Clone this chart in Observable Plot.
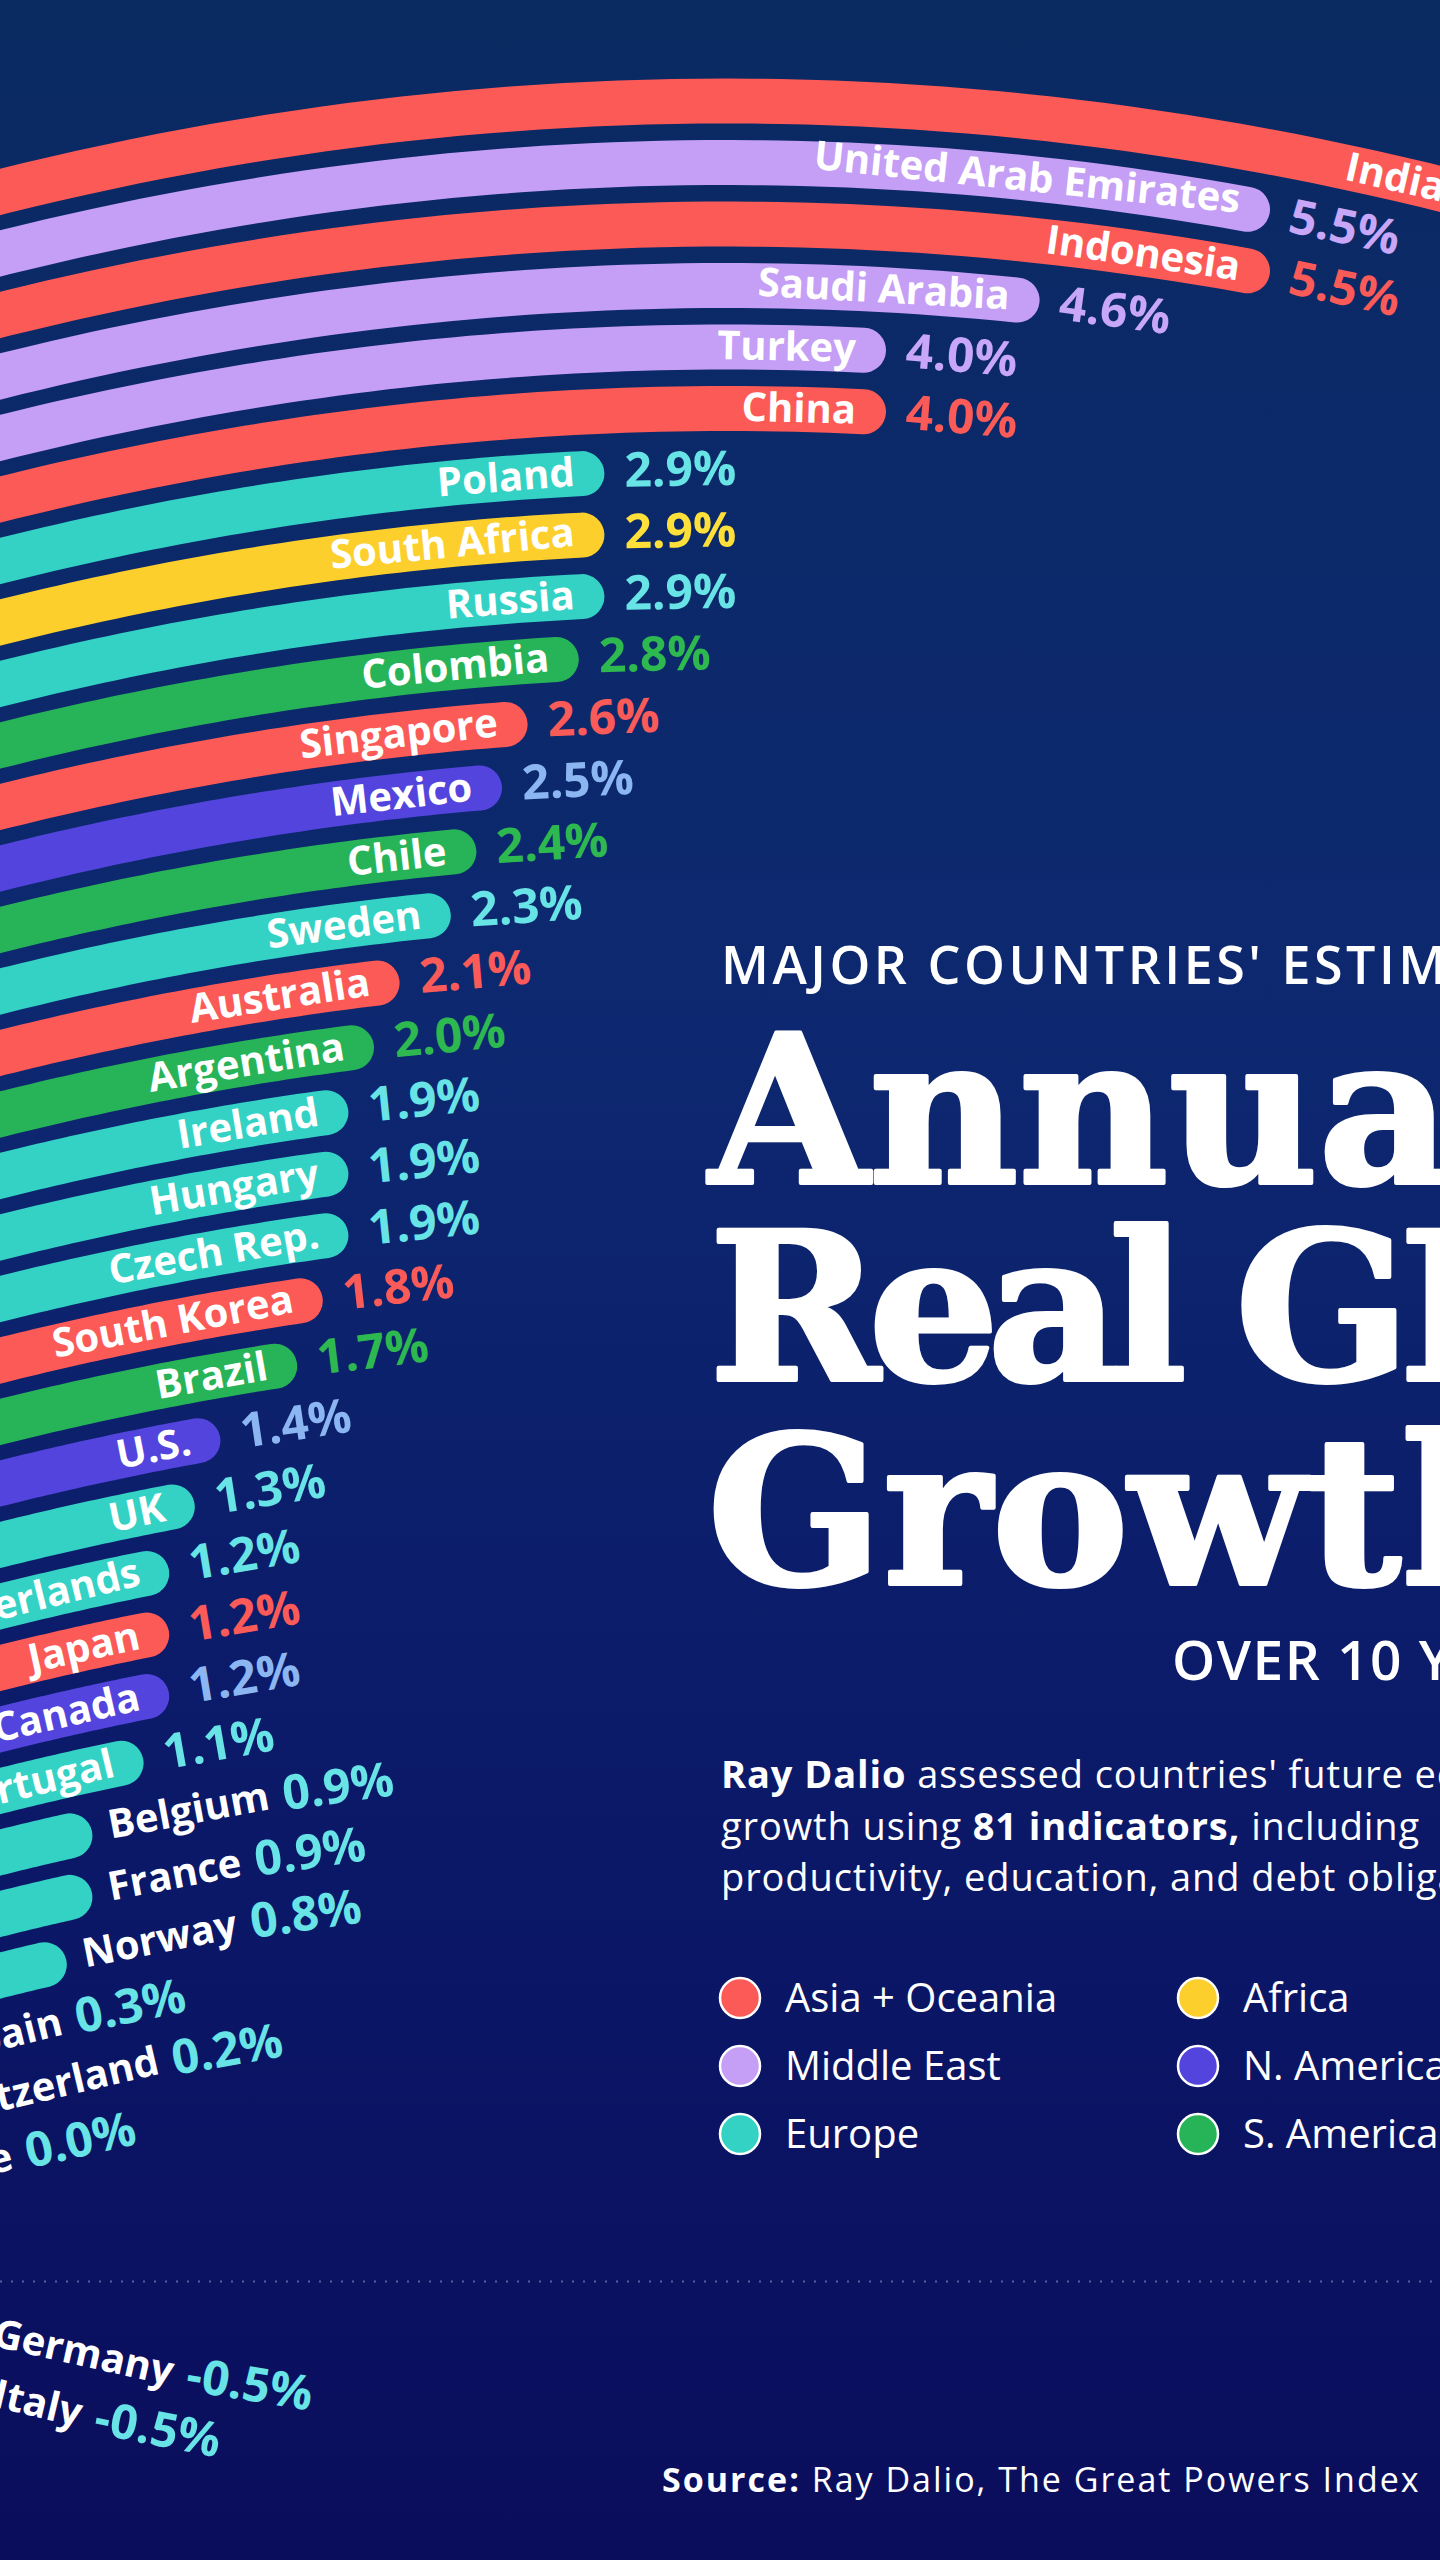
<!DOCTYPE html>
<html>
<head>
<meta charset="utf-8">
<script src="https://cdn.jsdelivr.net/npm/d3@7"></script>
<script src="https://cdn.jsdelivr.net/npm/@observablehq/plot@0.6"></script>
<style>
  html, body { margin: 0; padding: 0; }
  body {
    width: 1440px; height: 2560px; overflow: hidden; position: relative;
    background: linear-gradient(180deg, #0a2a62 0%, #0d2870 40%, #0b1868 72%, #0a0d5c 100%);
  }
  #chart { position: absolute; left: 0; top: 0; }
  #overlay { position: absolute; left: 0; top: 0; }
</style>
</head>
<body>
<div id="chart"></div>
<svg id="overlay" width="1440" height="2560" xmlns="http://www.w3.org/2000/svg"></svg>
<script>
// ---------------- DATA ----------------
const countries = ["India","United Arab Emirates","Indonesia","Saudi Arabia","Turkey","China","Poland","South Africa","Russia","Colombia","Singapore","Mexico","Chile","Sweden","Australia","Argentina","Ireland","Hungary","Czech Rep.","South Korea","Brazil","U.S.","UK","Netherlands","Japan","Canada","Portugal","Belgium","France","Norway","Spain","Switzerland","Greece","Germany","Italy"];
const growth = [6.3,5.5,5.5,4.6,4.0,4.0,2.9,2.9,2.9,2.8,2.6,2.5,2.4,2.3,2.1,2.0,1.9,1.9,1.9,1.8,1.7,1.4,1.3,1.2,1.2,1.2,1.1,0.9,0.9,0.8,0.3,0.2,0.0,-0.5,-0.5];
const regions = ["Asia + Oceania","Middle East","Asia + Oceania","Middle East","Middle East","Asia + Oceania","Europe","Africa","Europe","S. America","Asia + Oceania","N. America","S. America","Europe","Asia + Oceania","S. America","Europe","Europe","Europe","Asia + Oceania","S. America","N. America","Europe","Europe","Asia + Oceania","N. America","Europe","Europe","Europe","Europe","Europe","Europe","Europe","Europe","Europe"];
const regionNames = ["Asia + Oceania","Middle East","Europe","Africa","N. America","S. America"];

// ---------------- STYLE / LAYOUT ----------------
const barColors   = ["#fc5a57","#c59ef5","#33d2c4","#fdcf2c","#5244dc","#27b357"];
const valueColors = ["#fb5b58","#c8a6f8","#68e4e6","#ffe03a","#8cb6f2","#2eb850"];
const W = 1440, H = 2560;
const X0 = -161, K = 256;          // x scale: value 0 -> X0 px, +1% -> +K px
const Y0 = 100.5, STEP = 61.5;      // y scale: row 0 -> Y0, +1 row -> +STEP
const XC = 726, R = 2900;           // bending of the bars
const BAR_W = 45, CAP = BAR_W / 2;
const NEG_SHIFT = 4.78;             // rows offset of the mirrored (negative) section
const RULE_ROW = (2281 - Y0) / STEP;
const NAME_FONT = 40, VALUE_FONT = 48, FAM = "Open Sans";

const px = v => X0 + K * v;
const val = p => (p - X0) / K;
const bend = p => (p - XC) * (p - XC) / (2 * R);
const rowY = (rank, p, neg) => neg ? rank + NEG_SHIFT - bend(p) / STEP : rank + bend(p) / STEP;
const angle = (p, neg) => { const a = Math.atan((p - XC) / R) * 180 / Math.PI; return neg ? -a : a; };

const rows = countries.map((c, i) => ({country: c, value: growth[i], region: regions[i], rank: i, neg: growth[i] < 0}));

// bar paths (sampled along the bent band)
const SAMPLES = 60;
const barPts = rows.flatMap(r => d3.range(SAMPLES + 1).map(k => {
  const s = Math.abs(r.value) * k / SAMPLES;
  return {country: r.country, region: r.region, x: s, y: rowY(r.rank, px(s), r.neg)};
}));

// label placement
const ctx = document.createElement("canvas").getContext("2d");
const tw = (t, size) => { ctx.font = `700 ${size}px "${FAM}"`; return ctx.measureText(t).width; };
const fmt = v => v.toFixed(1) + "%";
function fromStart(p0, w) {
  const th = Math.atan((p0 + w / 2 - XC) / R);
  return {cx: p0 + (w / 2) * Math.cos(th), end: p0 + w * Math.cos(th)};
}
function fromEnd(pe, w) {
  const th = Math.atan((pe - w / 2 - XC) / R);
  return {cx: pe - (w / 2) * Math.cos(th)};
}
const nameLabels = [], valueLabels = [];
for (const r of rows) {
  const a = Math.abs(r.value);
  const capEdge = px(a) + CAP;
  const nameW = tw(r.country, NAME_FONT);
  const valText = fmt(r.value);
  const valW = tw(valText, VALUE_FONT);
  let nameCx, valStart;
  if (r.value >= 1) {
    nameCx = fromEnd(capEdge - 30, nameW).cx;
    valStart = capEdge + 20;
  } else {
    const f = fromStart(capEdge + (r.neg ? 4 : 16), nameW);
    nameCx = f.cx;
    valStart = f.end + 14;
  }
  const valCx = fromStart(valStart, valW).cx;
  nameLabels.push({text: r.country, x: val(nameCx), y: rowY(r.rank, nameCx, r.neg), rotate: angle(nameCx, r.neg)});
  valueLabels.push({text: valText, region: r.region, x: val(valCx), y: rowY(r.rank, valCx, r.neg), rotate: angle(valCx, r.neg)});
}

const chart = Plot.plot({
  width: W, height: H,
  margin: 0,
  style: {background: "transparent", overflow: "hidden"},
  x: {domain: [0, 1], range: [X0, X0 + K], axis: null},
  y: {domain: [0, 1], range: [Y0, Y0 + STEP], axis: null},
  color: {domain: regionNames, range: barColors},
  marks: [
    Plot.ruleY([RULE_ROW], {stroke: "#9fb0dc", strokeOpacity: 0.5, strokeWidth: 2, strokeDasharray: "2 9"}),
    Plot.line(barPts, {x: "x", y: "y", z: "country", stroke: "region", strokeWidth: BAR_W, strokeLinecap: "round", strokeLinejoin: "round"}),
    Plot.text(nameLabels, {x: "x", y: "y", text: "text", rotate: "rotate", fill: "#ffffff", fontSize: NAME_FONT, fontWeight: 700, fontFamily: FAM, textAnchor: "middle"}),
    ...regionNames.map((g, i) => Plot.text(valueLabels.filter(d => d.region === g), {x: "x", y: "y", text: "text", rotate: "rotate", fill: valueColors[i], fontSize: VALUE_FONT, fontWeight: 700, fontFamily: FAM, textAnchor: "middle"}))
  ]
});
document.getElementById("chart").appendChild(chart);

// ---------------- TITLE, NOTE, LEGEND, SOURCE ----------------
const ov = d3.select("#overlay");
const g = ov.append("g").attr("font-family", `"${FAM}", sans-serif`).attr("fill", "#ffffff");
g.append("text").attr("x", 721).attr("y", 984).attr("font-size", 52).attr("font-weight", 600).attr("letter-spacing", 3.5).text("MAJOR COUNTRIES' ESTIMATED");
const big = g.append("g").attr("font-family", '"DejaVu Serif", serif').attr("font-weight", 700).attr("font-size", 206)
  .attr("stroke", "#ffffff").attr("stroke-width", 4).attr("stroke-linejoin", "round");
big.append("text").attr("x", 709).attr("y", 1183).text("Annual");
big.append("text").attr("x", 709).attr("y", 1380).attr("letter-spacing", -12).text("Real GDP");
big.append("text").attr("x", 707).attr("y", 1584).text("Growth");
g.append("text").attr("x", 1172).attr("y", 1680).attr("font-size", 55).attr("font-weight", 600).attr("letter-spacing", 1.5).text("OVER 10 YEARS");

const noteLines = [
  [["Ray Dalio", 700], [" assessed countries' future economic", 400]],
  [["growth using ", 400], ["81 indicators,", 700], [" including", 400]],
  [["productivity, education, and debt obligations.", 400]]
];
noteLines.forEach((parts, i) => {
  const t = g.append("text").attr("x", 721).attr("y", [1788, 1840, 1891][i]).attr("font-size", 38).attr("letter-spacing", 0.9).style("white-space", "pre");
  parts.forEach(([s, w]) => t.append("tspan").attr("font-weight", w).text(s));
});

const legendPos = [[740, 1998], [740, 2066], [740, 2134], [1198, 1998], [1198, 2066], [1198, 2134]];
regionNames.forEach((name, i) => {
  const [cx, cy] = legendPos[i];
  g.append("circle").attr("cx", cx).attr("cy", cy).attr("r", 20).attr("fill", barColors[i]).attr("stroke", "#ffffff").attr("stroke-width", 2.5);
  g.append("text").attr("x", cx + 45).attr("y", cy + 14).attr("font-size", 40).text(name);
});

const src = g.append("text").attr("x", 662).attr("y", 2492).attr("font-size", 34).attr("letter-spacing", 2).style("white-space", "pre");
src.append("tspan").attr("font-weight", 700).text("Source:");
src.append("tspan").attr("font-weight", 400).text(" Ray Dalio, The Great Powers Index");
</script>
</body>
</html>
